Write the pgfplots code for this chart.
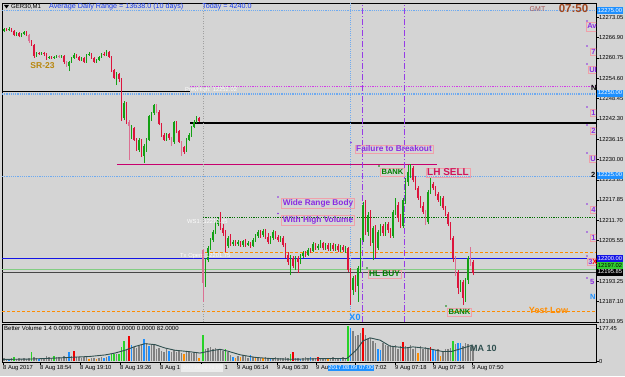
\documentclass[border=0pt]{standalone}
\usepackage{pgfplots}
\pgfplotsset{compat=1.18}
\usepackage{pgfplotstable}
\usepackage{fontspec}
\setmainfont{Liberation Sans}

\definecolor{bg}{RGB}{212,212,212}
\definecolor{bull}{RGB}{20,160,20}
\definecolor{bear}{RGB}{220,20,60}
\definecolor{pale}{RGB}{219,112,147}
\definecolor{vgray}{RGB}{128,128,128}
\definecolor{vgreen}{RGB}{40,210,40}
\definecolor{vred}{RGB}{240,0,0}
\definecolor{vblue}{RGB}{30,144,255}
\definecolor{vorange}{RGB}{255,140,0}
\definecolor{maline}{RGB}{47,79,79}
\definecolor{adr}{RGB}{25,60,240}
\definecolor{violet}{RGB}{138,43,226}
\definecolor{bankg}{RGB}{0,128,0}
\definecolor{lhsell}{RGB}{210,20,90}
\definecolor{yest}{RGB}{255,140,0}
\definecolor{sr}{RGB}{184,134,11}
\definecolor{pinkbox}{RGB}{240,160,170}
\definecolor{ltblue}{RGB}{110,170,240}
\definecolor{magdot}{RGB}{210,60,230}
\definecolor{crline}{RGB}{200,0,110}
\definecolor{dgreen}{RGB}{0,110,0}
\definecolor{bline}{RGB}{20,20,230}
\definecolor{lgreen}{RGB}{130,205,130}
\definecolor{dgray}{RGB}{70,70,70}
\definecolor{vsep}{RGB}{160,160,160}
\definecolor{clock}{RGB}{160,70,30}
\definecolor{gmt}{RGB}{165,85,85}
\definecolor{pricebox}{RGB}{30,144,255}
\definecolor{purpdd}{RGB}{150,60,230}
\definecolor{gbox}{RGB}{50,205,50}

% candles: x open high low close type (1 bull, -1 bear, -2 pale bear)
\pgfplotstableread{
x o h l c t
4 12268.8 12269.7 12268.5 12269.4 1
6.5 12269.4 12269.7 12268.8 12269.1 -1
9 12269.1 12270.0 12268.8 12269.4 1
11.5 12269.4 12269.7 12268.5 12268.8 -1
14 12268.8 12269.1 12267.3 12267.6 -1
16.5 12267.6 12268.5 12267.3 12268.2 1
19 12268.2 12268.5 12267.0 12267.3 -1
21.5 12267.3 12268.2 12267.0 12267.9 1
24 12267.9 12268.8 12267.6 12268.5 1
26.5 12268.5 12268.8 12267.3 12267.6 -1
29 12267.6 12267.9 12265.2 12265.8 -2
31.5 12265.8 12266.1 12264.3 12264.6 -1
34 12264.6 12264.9 12260.7 12261.3 -1
36.5 12261.3 12262.5 12261.0 12262.2 1
39 12262.2 12262.5 12261.6 12261.9 -1
41.5 12261.9 12262.5 12261.6 12262.2 1
44 12262.2 12262.5 12261.3 12261.9 -1
46.5 12261.9 12262.2 12260.1 12260.7 -1
49 12260.7 12261.3 12260.4 12261.0 1
51.5 12261.0 12261.3 12260.4 12260.7 -1
54 12260.7 12261.3 12260.4 12261.0 1
56.5 12261.0 12261.6 12260.7 12261.3 1
59 12261.3 12261.6 12260.7 12261.0 -2
61.5 12261.0 12261.6 12260.7 12261.3 1
64 12261.3 12261.6 12258.9 12259.5 -1
66.5 12259.5 12259.8 12258.0 12258.3 -2
69 12258.3 12259.8 12256.7 12259.5 1
71.5 12259.5 12261.0 12259.2 12260.7 1
74 12260.7 12262.2 12260.4 12261.6 1
76.5 12261.6 12261.9 12260.7 12261.0 -1
79 12261.0 12261.3 12259.8 12260.1 -1
81.5 12260.1 12261.0 12259.8 12260.7 1
84 12260.7 12261.0 12259.2 12259.5 -1
86.5 12259.5 12261.9 12259.2 12261.6 1
89 12261.6 12262.5 12261.3 12261.9 1
91.5 12261.9 12262.2 12260.4 12260.7 -1
94 12260.7 12261.0 12259.2 12259.5 -1
96.5 12259.5 12260.4 12259.2 12260.1 1
99 12260.1 12261.3 12259.8 12261.0 1
101.5 12261.0 12262.2 12260.7 12261.9 1
104 12261.9 12262.5 12261.3 12261.6 -1
106.5 12261.6 12263.1 12261.3 12262.5 1
109 12262.5 12262.8 12260.7 12261.0 -1
111.5 12261.0 12261.3 12256.4 12257.0 -1
114 12257.0 12257.3 12254.3 12254.6 -1
116.5 12253.1 12256.4 12252.5 12255.8 1
119 12255.8 12256.1 12253.4 12254.3 -1
121.5 12254.3 12254.6 12241.6 12242.5 -1
124 12242.5 12247.7 12241.9 12247.1 1
126.5 12247.1 12247.4 12240.7 12241.3 -1
129 12241.3 12241.9 12229.9 12240.1 -2
131.5 12236.8 12240.4 12236.2 12240.1 1
134 12239.5 12239.8 12235.6 12235.9 -1
136.5 12235.9 12236.5 12232.6 12232.9 -1
139 12232.9 12236.5 12232.3 12235.9 1
141.5 12235.9 12236.2 12230.8 12231.1 -1
144 12231.1 12234.7 12228.9 12234.1 1
146.5 12232.9 12236.5 12232.3 12235.9 1
149 12235.9 12243.5 12235.6 12243.2 1
151.5 12242.5 12244.4 12241.6 12244.1 1
154 12244.1 12246.8 12243.5 12246.5 1
156.5 12246.2 12246.8 12244.1 12244.4 -2
159 12244.4 12245.0 12240.4 12240.7 -1
161.5 12240.7 12241.0 12236.8 12237.4 -1
164 12237.4 12238.0 12235.6 12235.9 -1
166.5 12235.9 12238.0 12235.6 12237.7 1
169 12237.7 12238.0 12235.9 12236.5 -1
171.5 12236.5 12236.8 12234.1 12234.7 -2
174 12235.3 12241.6 12234.7 12241.3 1
176.5 12241.3 12241.6 12238.0 12238.6 -1
179 12238.6 12238.9 12235.0 12235.3 -1
181.5 12235.3 12235.6 12231.1 12232.9 -2
184 12233.8 12234.1 12231.7 12232.3 -1
186.5 12232.9 12236.5 12232.3 12235.9 1
189 12235.9 12238.0 12235.6 12237.4 1
191.5 12237.4 12240.1 12236.8 12239.8 1
194 12239.8 12241.9 12239.5 12241.3 1
196.5 12241.3 12243.2 12241.0 12242.5 1
199 12242.5 12242.8 12241.3 12241.6 -1
203 12202.7 12203.0 12187.0 12192.7 -2
205.5 12192.7 12200.3 12191.5 12199.6 1
208 12199.6 12203.9 12199.0 12203.3 1
210.5 12203.3 12206.3 12202.7 12205.7 1
213 12205.7 12208.7 12205.1 12208.1 1
215.5 12208.1 12211.1 12207.5 12210.5 1
218 12210.5 12212.3 12209.9 12211.7 1
220.5 12211.7 12214.1 12208.7 12209.3 -1
223 12209.3 12210.5 12206.9 12207.8 -1
225.5 12207.8 12208.7 12202.1 12203.9 -1
228 12203.9 12206.9 12203.3 12206.3 1
230.5 12206.3 12207.5 12203.9 12204.5 -1
233 12204.5 12205.7 12203.9 12205.1 1
235.5 12205.1 12205.7 12203.9 12204.5 -1
238 12204.5 12205.7 12203.9 12205.1 1
240.5 12205.1 12205.4 12203.6 12204.2 -1
243 12204.2 12205.7 12203.6 12205.4 1
245.5 12205.4 12206.0 12203.6 12204.2 -1
248 12204.2 12205.4 12203.9 12204.8 1
250.5 12204.8 12205.1 12203.3 12203.9 -1
253 12203.9 12206.3 12203.6 12205.7 1
255.5 12205.7 12207.5 12205.1 12206.9 1
258 12206.9 12208.7 12206.3 12208.1 1
260.5 12208.1 12208.7 12206.3 12207.2 -1
263 12207.2 12209.0 12206.6 12208.4 1
265.5 12208.4 12209.0 12206.0 12206.6 -1
268 12206.6 12207.8 12204.5 12205.1 -1
270.5 12205.1 12206.9 12204.5 12206.3 1
273 12206.3 12208.7 12205.7 12208.1 1
275.5 12208.1 12208.4 12206.0 12206.6 -1
278 12206.6 12207.2 12205.1 12205.7 -1
280.5 12205.7 12206.9 12205.1 12206.3 1
283 12206.3 12206.9 12203.6 12204.2 -1
285.5 12204.2 12204.8 12200.3 12201.2 -1
288 12201.2 12202.1 12198.1 12199.0 -1
290.5 12199.0 12201.2 12195.1 12200.3 1
293 12200.3 12200.9 12197.2 12197.8 -1
295.5 12197.8 12200.9 12196.6 12200.3 1
298 12200.3 12200.9 12195.7 12199.0 -1
300.5 12199.0 12201.5 12198.4 12200.9 1
303 12200.9 12202.4 12200.3 12201.8 1
305.5 12201.8 12202.4 12200.6 12201.2 -1
308 12201.2 12203.3 12200.9 12202.7 1
310.5 12202.7 12203.3 12201.8 12202.4 -1
313 12202.4 12205.1 12202.1 12204.5 1
315.5 12204.5 12204.8 12202.7 12203.3 -1
318 12203.3 12204.5 12202.7 12203.9 1
320.5 12203.9 12205.7 12203.3 12204.8 1
323 12204.8 12205.1 12202.7 12203.3 -1
325.5 12203.3 12204.8 12202.7 12204.2 1
328 12204.2 12204.8 12202.4 12203.0 -1
330.5 12203.0 12204.8 12202.4 12204.2 1
333 12204.2 12204.8 12202.4 12203.0 -1
335.5 12203.0 12204.5 12202.4 12203.9 1
338 12203.9 12204.5 12202.1 12202.7 -1
340.5 12202.7 12204.2 12202.1 12203.6 1
343 12203.6 12204.2 12202.1 12202.7 -1
345.5 12202.7 12203.9 12201.8 12203.3 1
348 12203.3 12203.6 12196.0 12196.6 -1
350.5 12196.6 12197.2 12186.1 12190.6 -1
353 12190.6 12194.8 12189.1 12194.2 1
355.5 12194.2 12195.1 12190.0 12191.8 -1
358 12191.8 12197.8 12187.0 12197.2 1
360.5 12197.2 12206.3 12196.0 12205.7 1
363 12205.7 12217.2 12205.1 12216.3 1
365.5 12216.3 12217.8 12207.2 12208.1 -1
368 12208.1 12214.1 12206.9 12213.2 1
370.5 12213.2 12214.8 12203.9 12204.8 -1
373 12204.8 12209.9 12199.6 12209.3 1
375.5 12209.3 12210.2 12200.3 12203.3 -1
378 12203.3 12208.7 12202.7 12208.1 1
380.5 12208.1 12210.5 12206.9 12209.9 1
383 12209.9 12210.5 12206.9 12207.8 -1
385.5 12207.8 12211.1 12206.9 12210.5 1
388 12210.5 12211.1 12207.8 12208.7 -1
390.5 12208.7 12209.3 12206.3 12206.9 -1
393 12206.9 12214.8 12206.3 12214.1 1
395.5 12214.1 12218.4 12213.2 12216.3 1
398 12216.3 12217.2 12211.1 12212.3 -1
400.5 12212.3 12213.5 12209.3 12209.9 -1
403 12209.9 12218.4 12209.3 12217.8 1
405.5 12217.8 12224.4 12216.6 12223.2 1
408 12223.2 12228.3 12222.0 12226.2 1
410.5 12226.2 12228.6 12224.4 12227.4 1
413 12227.4 12228.0 12223.2 12223.8 -1
415.5 12223.8 12225.0 12220.8 12221.4 -1
418 12221.4 12222.0 12217.8 12218.4 -1
420.5 12218.4 12219.0 12215.4 12216.0 -1
423 12216.0 12217.2 12213.5 12214.1 -1
425.5 12214.1 12214.8 12210.2 12211.1 -2
428 12211.1 12220.8 12210.5 12220.2 1
430.5 12220.2 12224.7 12219.6 12222.6 1
433 12222.6 12223.2 12220.8 12221.4 -1
435.5 12221.4 12222.0 12219.0 12219.6 -1
438 12219.6 12220.2 12217.2 12217.8 -1
440.5 12217.8 12219.0 12216.0 12218.4 1
443 12218.4 12219.0 12214.8 12215.4 -1
445.5 12215.4 12216.0 12212.9 12213.5 -1
448 12213.5 12214.1 12209.9 12210.5 -1
450.5 12210.5 12211.1 12205.7 12206.3 -1
453 12206.3 12206.9 12199.0 12200.3 -1
455.5 12200.3 12200.9 12194.8 12196.0 -2
458 12196.0 12196.6 12189.4 12191.2 -1
460.5 12191.2 12193.6 12190.0 12193.0 1
463 12193.0 12193.6 12186.1 12188.2 -1
465.5 12188.2 12194.2 12187.0 12193.6 1
468 12193.6 12200.9 12192.4 12200.3 1
470.5 12200.3 12203.6 12197.8 12199.0 -2
473 12199.0 12199.6 12195.1 12195.85 -1
}\candles

% volume: x value type (0 gray, 1 green, 2 red, 3 blue, 4 orange)
\pgfplotstableread{
x v t
4 16 0
6.5 11 0
9 11 3
11.5 16 0
14 22 1
16.5 11 0
19 16 0
21.5 11 0
24 16 0
26.5 11 0
29 16 0
31.5 49 1
34 22 0
36.5 16 0
39 11 3
41.5 16 0
44 16 0
46.5 27 0
49 22 0
51.5 16 0
54 27 1
56.5 22 0
59 22 0
61.5 16 0
64 27 0
66.5 22 0
69 49 3
71.5 27 0
74 54 2
76.5 22 0
79 22 0
81.5 16 0
84 22 0
86.5 22 0
89 11 4
91.5 16 0
94 16 0
96.5 11 4
99 16 0
101.5 22 0
104 16 3
106.5 22 0
109 27 3
111.5 38 1
114 38 1
116.5 38 0
119 38 1
121.5 76 1
124 108 1
126.5 59 0
129 135 2
131.5 86 3
134 76 0
136.5 70 0
139 81 0
141.5 86 0
144 119 3
146.5 97 0
149 81 3
151.5 92 0
154 86 0
156.5 65 0
159 70 0
161.5 54 0
164 49 0
166.5 65 0
169 54 3
171.5 49 0
174 59 0
176.5 49 0
179 54 0
181.5 43 0
184 38 4
186.5 49 0
189 49 0
191.5 43 0
194 49 0
196.5 43 0
199 16 4
203 140 1
205.5 65 0
208 70 0
210.5 76 0
213 65 0
215.5 70 0
218 59 0
220.5 65 0
223 54 0
225.5 65 1
228 49 0
230.5 32 0
233 22 3
235.5 16 4
238 27 0
240.5 22 4
243 32 0
245.5 27 0
248 16 0
250.5 32 3
253 22 0
255.5 16 4
258 22 0
260.5 16 0
263 16 4
265.5 22 0
268 16 0
270.5 11 3
273 16 0
275.5 22 0
278 16 0
280.5 16 0
283 16 0
285.5 22 0
288 16 0
290.5 38 1
293 49 2
295.5 16 0
298 16 0
300.5 11 3
303 16 0
305.5 22 0
308 16 0
310.5 22 3
313 16 0
315.5 16 0
318 22 2
320.5 16 0
323 16 0
325.5 16 0
328 11 4
330.5 16 0
333 22 0
335.5 16 0
338 16 0
340.5 16 3
343 22 0
345.5 16 0
348 192 1
350.5 178 3
353 162 0
355.5 135 0
358 140 0
360.5 151 0
363 178 2
365.5 140 0
368 119 0
370.5 124 0
373 108 0
375.5 97 0
378 65 3
380.5 59 3
383 97 0
385.5 86 0
388 81 0
390.5 86 0
393 81 0
395.5 86 0
398 65 0
400.5 81 0
403 103 2
405.5 81 0
408 76 0
410.5 86 0
413 65 0
415.5 76 0
418 43 4
420.5 81 0
423 65 0
425.5 76 0
428 70 0
430.5 76 2
433 65 3
435.5 59 3
438 65 0
440.5 27 4
443 54 0
445.5 65 0
448 65 0
450.5 70 0
453 108 1
455.5 92 0
458 97 3
460.5 97 3
463 81 0
465.5 97 0
468 92 0
470.5 79 0
473 82 0
}\vol

\pgfplotsset{
  cwick/.style={mark=none, draw=none, forget plot,
    error bars/y dir=plus, error bars/y explicit, error bars/error mark=none,
    error bars/error bar style={line width=0.6pt, draw=#1, solid}},
  cbody/.style={mark=none, draw=none, forget plot,
    error bars/y dir=plus, error bars/y explicit, error bars/error mark=none,
    error bars/error bar style={line width=1.7pt, draw=#1, solid}},
}
\tikzset{
  ann/.style={draw=pinkbox, line width=0.5pt, inner sep=1.2pt, font=\bfseries\fontsize{8.3}{9}\selectfont},
  pbox/.style={inner sep=0.4pt, minimum width=26pt, minimum height=7pt, font=\fontsize{5.8}{6}\selectfont},
  wtxt/.style={text=white!92!bg, anchor=west, inner sep=0pt, font=\fontsize{5.8}{6}\selectfont},
  rlab/.style={draw=pinkbox, anchor=west, text=violet, inner sep=1pt, line width=0.5pt, font=\bfseries\fontsize{7.5}{8}\selectfont},
  tlab/.style={anchor=north west, inner sep=0.5pt, font=\fontsize{5.8}{6}\selectfont},
}

\begin{document}
\begin{tikzpicture}[x=1pt,y=1pt]
\fill[bg] (0pt,0pt) rectangle (625pt,376pt);

% ---------------- main price panel ----------------
\begin{axis}[
  at={(2pt,54pt)}, anchor=south west, scale only axis,
  width=594pt, height=319pt,
  xmin=2, xmax=596, ymin=12180.91, ymax=12277.28,
  axis line style={black, line width=0.6pt},
  xtick=\empty,
  scaled y ticks=false,
  ytick={12273.05,12266.90,12260.75,12254.60,12248.45,12242.30,12236.15,12230.00,12223.85,12217.85,12211.70,12205.55,12193.25,12187.10,12180.95},
  yticklabels={12273.05,12266.90,12260.75,12254.60,12248.45,12242.30,12236.15,12230.00,12223.85,12217.85,12211.70,12205.55,12193.25,12187.10,12180.95},
  ytick pos=right, yticklabel pos=right,
  tick align=outside, major tick length=2.5pt,
  tick style={black, line width=0.4pt},
  yticklabel style={font=\fontsize{5.8}{6}\selectfont, inner sep=0.5pt},
  clip=true,
]
% level lines
\addplot[forget plot, ltblue, line width=1.1pt, dash pattern=on 1.1pt off 1.1pt] coordinates {(2,12275) (596,12275)};
\addplot[forget plot, magdot, line width=0.6pt, dash pattern=on 1.2pt off 1.2pt] coordinates {(190,12252.02) (596,12252.02)};
\addplot[forget plot, black, line width=1pt] coordinates {(2,12250.4) (190,12250.4)};
\addplot[forget plot, ltblue, line width=1.1pt, dash pattern=on 1.1pt off 1.1pt] coordinates {(2,12249.8) (596,12249.8)};
\addplot[forget plot, black, line width=1.3pt] coordinates {(190,12241.0) (596,12241.0)};
\addplot[forget plot, crline, line width=1.2pt] coordinates {(117,12228.6) (437,12228.6)};
\addplot[forget plot, ltblue, line width=1.1pt, dash pattern=on 1.1pt off 1.1pt] coordinates {(2,12225) (596,12225)};
\addplot[forget plot, dgreen, line width=0.6pt, dash pattern=on 1.2pt off 1.2pt] coordinates {(203,12212.6) (596,12212.6)};
\addplot[forget plot, yest, line width=0.7pt, dash pattern=on 3pt off 2pt] coordinates {(205,12202.1) (596,12202.1)};
\addplot[forget plot, bline, line width=0.8pt] coordinates {(2,12200) (596,12200)};
\addplot[forget plot, lgreen, line width=0.8pt] coordinates {(2,12196.9) (596,12196.9)};
\addplot[forget plot, dgray, line width=0.8pt] coordinates {(2,12195.85) (596,12195.85)};
\addplot[forget plot, yest, line width=0.7pt, dash pattern=on 3pt off 2pt] coordinates {(2,12184.2) (596,12184.2)};
% vertical lines
\addplot[forget plot, vsep, line width=0.6pt, dash pattern=on 1pt off 1.5pt] coordinates {(203,12180.91) (203,12277.28)};
\addplot[forget plot, ltblue, line width=0.7pt, dash pattern=on 1pt off 1.2pt] coordinates {(350,12182.1) (350,12277.28)};
\addplot[forget plot, purpdd, line width=0.8pt, dash pattern=on 6pt off 2pt on 1pt off 2pt] coordinates {(362,12180.91) (362,12277.28)};
\addplot[forget plot, purpdd, line width=0.8pt, dash pattern=on 6pt off 2pt on 1pt off 2pt] coordinates {(404,12180.91) (404,12277.28)};
% candles: wicks
\addplot[restrict expr to domain={\thisrow{t}}{0.5:1.5}, cwick=bull] table[x=x, y=l, y error plus expr={\thisrow{h}-\thisrow{l}}] {\candles};
\addplot[restrict expr to domain={\thisrow{t}}{-1.5:-0.5}, cwick=bear] table[x=x, y=l, y error plus expr={\thisrow{h}-\thisrow{l}}] {\candles};
\addplot[restrict expr to domain={\thisrow{t}}{-2.5:-1.5}, cwick=pale] table[x=x, y=l, y error plus expr={\thisrow{h}-\thisrow{l}}] {\candles};
% candles: bodies
\addplot[restrict expr to domain={\thisrow{t}}{0.5:1.5}, cbody=bull] table[x=x, y=o, y error plus expr={\thisrow{c}-\thisrow{o}}] {\candles};
\addplot[restrict expr to domain={\thisrow{t}}{-1.5:-0.5}, cbody=bear] table[x=x, y=c, y error plus expr={\thisrow{o}-\thisrow{c}}] {\candles};
\addplot[restrict expr to domain={\thisrow{t}}{-2.5:-1.5}, cbody=pale] table[x=x, y=c, y error plus expr={\thisrow{o}-\thisrow{c}}] {\candles};
\end{axis}

% ---------------- volume panel ----------------
\begin{axis}[
  at={(2pt,14pt)}, anchor=south west, scale only axis,
  width=594pt, height=38pt,
  xmin=2, xmax=596, ymin=-2.7, ymax=200,
  axis line style={black, line width=0.6pt},
  ytick={0,177.45}, yticklabels={0,177.45},
  ytick pos=right, yticklabel pos=right,
  xtick={3,40,80,120,160,201,237,277,316,355,395,433,472},
  xticklabels={8 Aug 2017,8 Aug 18:54,8 Aug 19:10,8 Aug 19:26,8 Aug 1,{},9 Aug 06:14,9 Aug 06:30,9 Au,{},9 Aug 07:18,9 Aug 07:34,9 Aug 07:50},
  xtick pos=bottom,
  tick align=outside, major tick length=2.5pt,
  tick style={black, line width=0.4pt},
  xticklabel style={anchor=north west, font=\fontsize{5.8}{6}\selectfont, inner sep=0.5pt, xshift=-0.5pt},
  yticklabel style={font=\fontsize{5.8}{6}\selectfont, inner sep=0.5pt},
  clip=true,
]
\addplot[forget plot, ycomb, vgray, line width=1.6pt, restrict expr to domain={\thisrow{t}}{-0.5:0.5}] table[x=x,y=v] {\vol};
\addplot[forget plot, ycomb, vgreen, line width=1.6pt, restrict expr to domain={\thisrow{t}}{0.5:1.5}] table[x=x,y=v] {\vol};
\addplot[forget plot, ycomb, vred, line width=1.6pt, restrict expr to domain={\thisrow{t}}{1.5:2.5}] table[x=x,y=v] {\vol};
\addplot[forget plot, ycomb, vblue, line width=1.6pt, restrict expr to domain={\thisrow{t}}{2.5:3.5}] table[x=x,y=v] {\vol};
\addplot[forget plot, ycomb, vorange, line width=1.6pt, restrict expr to domain={\thisrow{t}}{3.5:4.5}] table[x=x,y=v] {\vol};
\addplot[forget plot, maline, line width=0.9pt] coordinates {
(3,11) (30,13) (50,17) (70,22) (90,27) (105,35) (115,45) (125,60) (135,80) (145,95)
(155,90) (165,72) (175,60) (190,52) (200,45) (210,56) (220,65) (228,55) (240,36) (255,22)
(270,16) (290,12) (310,14) (330,16) (347,16) (352,40) (357,65) (363,110) (370,126) (380,114)
(390,82) (400,76) (405,72) (413,78) (427,70) (443,53) (452,54) (462,70) (473,88)};
\end{axis}

% ---------------- overlays ----------------
% header
\fill[black] (4pt,371pt) -- (9pt,371pt) -- (6.5pt,367.5pt) -- cycle;
\node[anchor=west, inner sep=0pt, font=\fontsize{6}{6}\selectfont] at (11pt,369pt) {GER30,M1};
\node[anchor=west, inner sep=0pt, text=adr, font=\fontsize{7.2}{7}\selectfont] at (49pt,369pt) {Average Daily Range = 13638.0 (10 days)};
\node[anchor=west, inner sep=0pt, text=adr, font=\fontsize{7.2}{7}\selectfont] at (202pt,369pt) {Today = 4240.0};
\node[text=gmt, font=\fontsize{7}{7}\selectfont, inner sep=0pt] at (537.5pt,366.5pt) {GMT};
\node[text=clock, font=\bfseries\fontsize{11.5}{12}\selectfont, inner sep=0pt] at (573.5pt,367pt) {07:50};

% faint level texts
\node[wtxt] at (185pt,286pt) {PrevHigh: 12252.02};
\node[wtxt] at (187pt,154pt) {WS1: 12212.65};
\node[wtxt] at (180pt,120pt) {Tx Open: 12201.75};

% annotations
\node[text=sr, inner sep=0pt, font=\bfseries\fontsize{8.5}{9}\selectfont] at (42.5pt,310pt) {SR-23};
\node[ann, text=violet] at (394pt,227pt) {Failure to Breakout};
\fill[violet] (351pt,233.5pt) circle (0.9pt);
\node[ann, text=bankg, font=\bfseries\fontsize{7.6}{8}\selectfont] at (392.5pt,204pt) {BANK};
\fill[bankg] (379pt,210pt) circle (0.9pt);
\node[ann, text=lhsell, font=\bfseries\fontsize{10}{10}\selectfont] at (448pt,203.5pt) {LH SELL};
\node[ann, text=violet] at (318pt,172.5pt) {Wide Range Body};
\fill[violet] (278pt,179pt) circle (0.9pt);
\node[ann, text=violet] at (318pt,156pt) {With High Volume};
\fill[violet] (278pt,162.5pt) circle (0.9pt);
\node[ann, text=bankg] at (384.5pt,102pt) {HL BUY};
\fill[bankg] (367pt,108pt) circle (0.9pt);
\node[ann, text=bankg, font=\bfseries\fontsize{7.6}{8}\selectfont] at (459.5pt,64pt) {BANK};
\fill[bankg] (446pt,70pt) circle (0.9pt);
\node[text=yest, inner sep=0pt, font=\bfseries\fontsize{9}{9}\selectfont] at (548.5pt,66pt) {Yest Low};
\node[text=vblue, inner sep=0pt, font=\bfseries\fontsize{9}{9}\selectfont] at (355pt,59pt) {X0};
\node[text=maline, inner sep=0pt, font=\bfseries\fontsize{9}{9}\selectfont] at (483.5pt,27.5pt) {MA 10};
\node[anchor=west, inner sep=0pt, font=\fontsize{6}{6}\selectfont] at (4pt,48pt) {Better Volume 1.4 0.0000 79.0000 0.0000 0.0000 0.0000 82.0000};

% right-edge labels (cut by the chart edge)
\begin{scope}
\clip (2pt,54pt) rectangle (596pt,373pt);
\node[rlab] at (586pt,349pt) {Avg};
\node[rlab] at (590pt,324pt) {7};
\node[rlab] at (588pt,306pt) {UI};
\node[anchor=west, inner sep=0pt, font=\bfseries\fontsize{7.5}{8}\selectfont] at (591pt,288pt) {N};
\node[rlab] at (590pt,263pt) {1};
\node[rlab] at (590pt,245pt) {2};
\node[rlab] at (589pt,217pt) {U};
\node[anchor=west, inner sep=0pt, font=\bfseries\fontsize{7.5}{8}\selectfont] at (591pt,201pt) {2};
\node[rlab] at (590pt,166pt) {4};
\node[rlab] at (590pt,138pt) {1};
\node[rlab] at (587pt,114pt) {3\textcolor{red}{X}};
\node[anchor=west, inner sep=0pt, text=violet, font=\bfseries\fontsize{7.5}{8}\selectfont] at (590pt,94pt) {5};
\node[anchor=west, inner sep=0pt, text=vblue, font=\bfseries\fontsize{7.5}{8}\selectfont] at (590pt,79pt) {N};
\foreach \yy in {355,330,312,269,251,223,172,144,120,98} {\fill[violet] (587pt,\yy pt) circle (0.8pt);}
\end{scope}

% price boxes on the right scale
\node[pbox, fill=pricebox, text=white] at (610pt,365pt) {12275.00};
\node[pbox, fill=pricebox, text=white] at (610pt,283pt) {12250.00};
\node[pbox, fill=pricebox, text=white] at (610pt,201pt) {12225.00};
\node[pbox, fill=bline, text=white] at (610pt,117.5pt) {12200.00};
\node[pbox, fill=gbox, text=black] at (610pt,110.5pt) {12197.02};
\node[pbox, fill=black, text=white] at (610pt,104pt) {12195.85};

% time axis: visible pieces of covered labels and highlight boxes
\node[tlab] at (224pt,11.5pt) {1};
\node[tlab] at (374.5pt,11.5pt) {7:02};
\fill[white!55!bg] (181pt,4pt) rectangle (223pt,12pt);
\node[text=white!78!bg, inner sep=0pt, font=\fontsize{5}{5}\selectfont] at (202pt,8pt) {2017.08.09 06:00};
\node[fill=pricebox, text=white, inner sep=0.8pt, minimum width=45pt, font=\fontsize{5.8}{6}\selectfont] at (351pt,8pt) {2017.08.09 07:00};
\end{tikzpicture}
\end{document}
